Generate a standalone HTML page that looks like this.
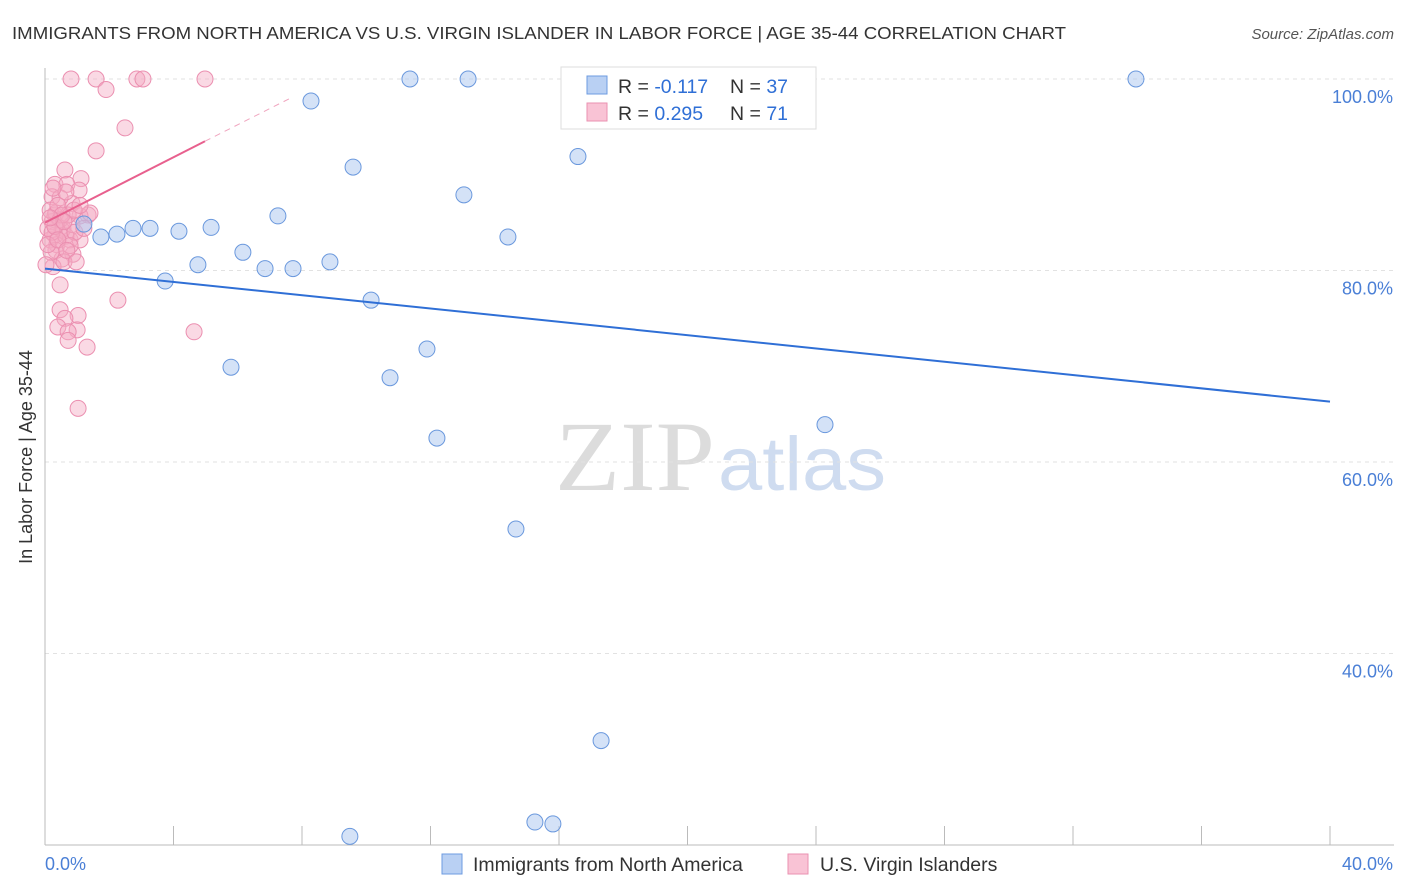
<!DOCTYPE html>
<html><head><meta charset="utf-8"><style>
body{margin:0;background:#fff;font-family:"Liberation Sans",sans-serif;}
#wrap{position:relative;width:1406px;height:892px;overflow:hidden;}
</style></head><body>
<div id="wrap">
<svg id="svg" width="1406" height="892" xmlns="http://www.w3.org/2000/svg">
<text x="12" y="39" font-size="17.5" fill="#333" textLength="1054" lengthAdjust="spacingAndGlyphs">IMMIGRANTS FROM NORTH AMERICA VS U.S. VIRGIN ISLANDER IN LABOR FORCE | AGE 35-44 CORRELATION CHART</text>
<text x="1394" y="39" font-size="15" fill="#555" font-style="italic" text-anchor="end">Source: ZipAtlas.com</text>
<text x="32" y="457" font-size="18" fill="#333" text-anchor="middle" transform="rotate(-90 32 457)">In Labor Force | Age 35-44</text>
<g>
<text x="635" y="490" font-size="100" fill="#dcdcdc" font-family="Liberation Serif,serif" text-anchor="middle" textLength="160" lengthAdjust="spacingAndGlyphs">ZIP</text>
<text x="802" y="490" font-size="76" fill="#cfdcf0" text-anchor="middle" textLength="168" lengthAdjust="spacingAndGlyphs">atlas</text>
</g>
<g id="grid"></g><g id="axes"></g><g id="marks"></g>
<g>
<rect x="561" y="67" width="255" height="62" fill="#fff" stroke="#ddd"/>
<rect x="587" y="76" width="20" height="18" fill="#b9d0f3" stroke="#6d9be0"/>
<rect x="587" y="103" width="20" height="18" fill="#f9c3d5" stroke="#ea92b1"/>
<text x="618" y="93" font-size="19.5" fill="#333">R = <tspan fill="#2f6fd6">-0.117</tspan></text>
<text x="730" y="93" font-size="19.5" fill="#333">N = <tspan fill="#2f6fd6">37</tspan></text>
<text x="618" y="120" font-size="19.5" fill="#333">R = <tspan fill="#2f6fd6"> 0.295</tspan></text>
<text x="730" y="120" font-size="19.5" fill="#333">N = <tspan fill="#2f6fd6"> 71</tspan></text>
</g>
<g>
<rect x="442" y="854" width="20" height="20" fill="#b9d0f3" stroke="#6d9be0"/>
<text x="473" y="871" font-size="19.5" fill="#333">Immigrants from North America</text>
<rect x="788" y="854" width="20" height="20" fill="#f9c3d5" stroke="#ea92b1"/>
<text x="820" y="871" font-size="19.5" fill="#333">U.S. Virgin Islanders</text>
</g>
</svg>
</div>
<script>
const yTicks=[40,60,80,100];
const xTickLabels=["0.0%","40.0%"];
const blueX=[1.21,1.74,2.24,2.74,3.27,4.17,5.17,3.74,4.76,5.79,6.16,6.85,7.25,7.72,8.28,8.87,9.49,9.59,10.15,10.74,11.36,11.89,12.2,13.04,13.17,14.41,14.66,15.25,15.81,16.59,17.31,20.79,24.28,33.96,17.8];
const blueY=[84.85,83.5,83.8,84.4,84.4,84.1,84.5,78.9,80.6,69.9,81.9,80.2,85.7,80.2,97.7,80.9,20.9,90.8,76.9,68.8,100,71.8,62.5,87.9,100,83.5,53.0,22.4,22.2,91.9,30.9,100,63.9,100,97.2];
const pinkX=[0.81,1.59,2.86,3.05,4.98,1.9,2.49,1.59,0.62,1.12,0.31,0.68,1.06,0.22,0.84,0.47,1.34,0.31,1.09,0.22,0.56,0.31,0.78,1.09,0.16,0.37,0.87,0.53,0.25,0.47,2.27,0.47,1.03,0.62,0.40,1.0,0.72,0.72,1.31,4.64,1.03,0.34,0.16,0.53,0.65,0.34,0.59,0.09,0.47,0.84,0.72,0.93,1.21,0.19,0.40,0.65,0.22,0.78,0.53,0.31,0.9,0.09,1.4,0.4,0.59,0.16,1.09,0.25,0.68,0.97,0.03];
const pinkY=[100,100,100,100,100,98.9,94.9,92.5,90.5,89.6,89.0,89.0,88.4,87.7,87.0,87.6,85.8,85.8,85.7,85.1,84.4,83.7,83.2,83.2,83.2,82.7,81.7,81.2,80.4,78.5,76.9,75.9,75.3,75.0,74.1,73.8,73.6,72.7,72.0,73.6,65.6,86.0,86.3,84.2,83.6,82.1,80.9,84.4,85.3,84.8,85.8,84.0,84.4,81.9,86.8,88.2,84.0,82.6,85.8,84.6,86.3,82.7,86.0,83.2,85.1,85.5,86.8,88.6,82.1,80.9,80.6];
const blueTrend=[[0,80.2],[40,66.3]];
const pinkTrend=[[0,85.0],[4.98,93.5]];
const pinkDash=[[4.98,93.5],[7.7,98.1]];

const NS="http://www.w3.org/2000/svg";
const X=v=>45+v*32.125, Y=v=>79+(100-v)*9.575;
function mk(tag,attrs,parent){const e=document.createElementNS(NS,tag);for(const k in attrs)e.setAttribute(k,attrs[k]);document.getElementById(parent).appendChild(e);return e;}
yTicks.forEach(t=>{
  const l=mk('line',{x1:45,x2:1394,y1:Y(t),y2:Y(t),stroke:'#e2e2e2','stroke-dasharray':'4 4'},'grid');
  
  
  const tx=mk('text',{x:1393,y:Y(t)+24,'font-size':18,fill:'#4a7fd6','text-anchor':'end'},'axes');
  tx.textContent=t.toFixed(1)+'%';
  
  
});
const ax=mk('line',{x1:45,x2:1394,y1:845,y2:845,stroke:'#bbb'},'axes');


const ay=mk('line',{x1:45,x2:45,y1:68,y2:845,stroke:'#bbb'},'axes');


for(let i=0;i<=10;i++){const t=mk('line',{x1:X(i*4),x2:X(i*4),y1:826,y2:845,stroke:'#bbb'},'axes');

}
const l0=mk('text',{x:45,y:870,'font-size':18,fill:'#4a7fd6'},'axes');l0.textContent=xTickLabels[0];


const l1=mk('text',{x:1393,y:870,'font-size':18,fill:'#4a7fd6','text-anchor':'end'},'axes');l1.textContent=xTickLabels[1];


pinkX.forEach((x,i)=>{const c=mk('circle',{cx:X(x),cy:Y(pinkY[i]),r:8,fill:'rgba(245,170,195,0.45)',stroke:'#eb8fb0','stroke-width':1},'marks');

});
blueX.forEach((x,i)=>{const c=mk('circle',{cx:X(x),cy:Y(blueY[i]),r:8,fill:'rgba(170,198,240,0.5)',stroke:'#6a98dd','stroke-width':1},'marks');

});
const bt=mk('line',{x1:X(blueTrend[0][0]),y1:Y(blueTrend[0][1]),x2:X(blueTrend[1][0]),y2:Y(blueTrend[1][1]),stroke:'#2f6fd6','stroke-width':2},'marks');


const pt=mk('line',{x1:X(pinkTrend[0][0]),y1:Y(pinkTrend[0][1]),x2:X(pinkTrend[1][0]),y2:Y(pinkTrend[1][1]),stroke:'#e8608e','stroke-width':2},'marks');


const pd=mk('line',{x1:X(pinkDash[0][0]),y1:Y(pinkDash[0][1]),x2:X(pinkDash[1][0]),y2:Y(pinkDash[1][1]),stroke:'#f0a5bf','stroke-width':1,'stroke-dasharray':'6 5'},'marks');


</script>
</body></html>
